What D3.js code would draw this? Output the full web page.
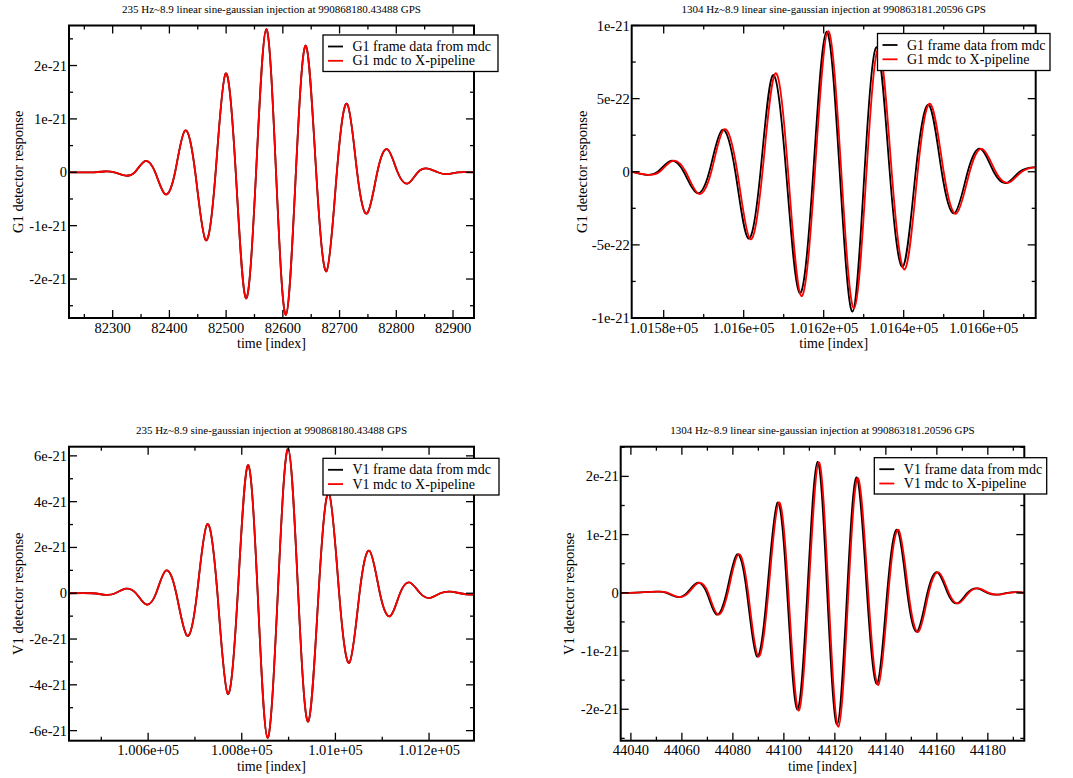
<!DOCTYPE html>
<html>
<head>
<meta charset="utf-8">
<script src="https://cdn.jsdelivr.net/npm/d3@7"></script>
<style>
  html, body { margin: 0; padding: 0; background: #fff; }
  svg text { font-family: "Liberation Serif", "Times New Roman", serif; fill: #000; }
</style>
</head>
<body>
<svg id="chart" width="1073" height="778"></svg>
<script>
// ---------------- DATA ----------------
// Panel A: G1, 235 Hz
const g1LowTime = [82223, 82267, 82285, 82303, 82321, 82339, 82357, 82375, 82392.5, 82410, 82427.4, 82445.6, 82463.9, 82481.5, 82499.1, 82517, 82534.9, 82552.8, 82570.7, 82588, 82605.4, 82623, 82640.6, 82658.8, 82677.1, 82695.2, 82713.4, 82731, 82748.6, 82766.5, 82784.4, 82802.4, 82820.4, 82838, 82855.6, 82873, 82890.8, 82908, 82937];
const g1LowFrame = [0, 0, 0.015e-21, 0, -0.06e-21, 0, 0.21e-21, 0, -0.41e-21, 0, 0.78e-21, 0, -1.27e-21, 0, 1.85e-21, 0, -2.36e-21, 0, 2.68e-21, 0, -2.67e-21, 0, 2.37e-21, 0, -1.85e-21, 0, 1.28e-21, 0, -0.77e-21, 0, 0.43e-21, 0, -0.21e-21, 0, 0.07e-21, 0, -0.035e-21, 0, 0];
const g1LowXpipe = [0, 0, 0.015e-21, 0, -0.06e-21, 0, 0.21e-21, 0, -0.41e-21, 0, 0.78e-21, 0, -1.27e-21, 0, 1.85e-21, 0, -2.36e-21, 0, 2.68e-21, 0, -2.67e-21, 0, 2.37e-21, 0, -1.85e-21, 0, 1.28e-21, 0, -0.77e-21, 0, 0.43e-21, 0, -0.21e-21, 0, 0.07e-21, 0, -0.035e-21, 0, 0];

// Panel B: G1, 1304 Hz
const g1HighTimeFrame = [101572, 101575.25, 101578.5, 101581.75, 101585, 101588.25, 101591.4, 101594.6, 101597.9, 101601.1, 101604.2, 101607.3, 101610.6, 101614, 101617.4, 101620.7, 101624, 101627.2, 101630.2, 101633.3, 101636.5, 101639.8, 101643, 101646.3, 101649.5, 101652.75, 101656, 101659.25, 101662.5, 101665.75, 101669, 101672.25, 101673];
const g1HighFrame = [0, -0.02e-21, 0, 0.075e-21, 0, -0.145e-21, 0, 0.285e-21, 0, -0.455e-21, 0, 0.66e-21, 0, -0.83e-21, 0, 0.957e-21, 0, -0.957e-21, 0, 0.851e-21, 0, -0.649e-21, 0, 0.456e-21, 0, -0.282e-21, 0, 0.156e-21, 0, -0.077e-21, 0, 0.03e-21, 0.028e-21];
const g1HighTimeXpipe = [101572, 101575.7, 101579, 101582.2, 101585.5, 101588.7, 101591.9, 101595.1, 101598.4, 101601.6, 101604.7, 101607.9, 101611.1, 101614.4, 101617.8, 101621.1, 101624.4, 101627.6, 101630.7, 101633.8, 101637, 101640.3, 101643.5, 101646.7, 101650, 101653.2, 101656.5, 101659.7, 101663, 101666.2, 101669.5, 101672.7, 101673];
const g1HighXpipe = [0, -0.02e-21, 0, 0.075e-21, 0, -0.15e-21, 0, 0.29e-21, 0, -0.46e-21, 0, 0.673e-21, 0, -0.85e-21, 0, 0.962e-21, 0, -0.934e-21, 0, 0.844e-21, 0, -0.667e-21, 0, 0.463e-21, 0, -0.285e-21, 0, 0.155e-21, 0, -0.075e-21, 0, 0.03e-21, 0.03e-21];

// Panel C: V1, 235 Hz
const v1LowTime = [100431, 100480, 100509, 100530, 100552, 100574, 100596, 100617, 100638, 100660, 100683, 100704.5, 100726, 100748, 100770, 100791.5, 100813, 100834, 100855, 100877, 100899, 100920.5, 100942, 100964, 100986, 101008, 101030, 101051.5, 101073, 101095, 101117, 101138, 101159, 101181, 101203, 101224, 101245, 101266, 101288, 101296];
const v1LowFrame = [0, 0, -0.07e-21, 0, 0.2e-21, 0, -0.49e-21, 0, 0.99e-21, 0, -1.85e-21, 0, 3.01e-21, 0, -4.39e-21, 0, 5.59e-21, 0, -6.31e-21, 0, 6.31e-21, 0, -5.6e-21, 0, 4.37e-21, 0, -3.03e-21, 0, 1.85e-21, 0, -1.0e-21, 0, 0.47e-21, 0, -0.2e-21, 0, 0.07e-21, 0, -0.06e-21, -0.03e-21];
const v1LowXpipe = [0, 0, -0.07e-21, 0, 0.2e-21, 0, -0.49e-21, 0, 0.99e-21, 0, -1.85e-21, 0, 3.01e-21, 0, -4.39e-21, 0, 5.59e-21, 0, -6.31e-21, 0, 6.31e-21, 0, -5.6e-21, 0, 4.37e-21, 0, -3.03e-21, 0, 1.85e-21, 0, -1.0e-21, 0, 0.47e-21, 0, -0.2e-21, 0, 0.07e-21, 0, -0.06e-21, -0.03e-21];

// Panel D: V1, 1304 Hz
const v1HighTimeFrame = [44036, 44042, 44050.1, 44054, 44058.1, 44062, 44066, 44069.8, 44073.5, 44077.5, 44081.6, 44085.5, 44089.4, 44093.4, 44097.5, 44101.3, 44105.2, 44109.2, 44113.2, 44117, 44120.9, 44124.8, 44128.6, 44132.6, 44136.6, 44140.5, 44144.5, 44148.4, 44152.3, 44156.3, 44160.3, 44164.2, 44168, 44172, 44175.9, 44179.8, 44183.8, 44187.7, 44191.6, 44194.3];
const v1HighFrame = [0, 0.005e-21, 0.02e-21, 0, -0.07e-21, 0, 0.17e-21, 0, -0.37e-21, 0, 0.66e-21, 0, -1.09e-21, 0, 1.55e-21, 0, -2.0e-21, 0, 2.25e-21, 0, -2.26e-21, 0, 1.98e-21, 0, -1.56e-21, 0, 1.08e-21, 0, -0.66e-21, 0, 0.35e-21, 0, -0.18e-21, 0, 0.075e-21, 0, -0.03e-21, 0, 0.01e-21, 0];
const v1HighTimeXpipe = [44036, 44042.5, 44050.6, 44054.5, 44058.6, 44062.5, 44066.5, 44070.3, 44074, 44078, 44082.1, 44086, 44089.9, 44093.9, 44098, 44101.8, 44105.7, 44109.7, 44113.7, 44117.5, 44121.4, 44125.3, 44129.1, 44133.1, 44137.1, 44141, 44145, 44148.9, 44152.8, 44156.8, 44160.8, 44164.7, 44168.5, 44172.5, 44176.4, 44180.3, 44184.3, 44188.2, 44192.1, 44194.3];
const v1HighXpipe = [0, 0.005e-21, 0.02e-21, 0, -0.07e-21, 0, 0.17e-21, 0, -0.37e-21, 0, 0.66e-21, 0, -1.09e-21, 0, 1.55e-21, 0, -2.02e-21, 0, 2.24e-21, 0, -2.3e-21, 0, 1.97e-21, 0, -1.58e-21, 0, 1.08e-21, 0, -0.67e-21, 0, 0.35e-21, 0, -0.18e-21, 0, 0.075e-21, 0, -0.03e-21, 0, 0.01e-21, 0];

// Titles, labels, ticks
const titles = [
  "235 Hz~8.9 linear sine-gaussian injection at 990868180.43488 GPS",
  "1304 Hz~8.9 linear sine-gaussian injection at 990863181.20596 GPS",
  "235 Hz~8.9 sine-gaussian injection at 990868180.43488 GPS",
  "1304 Hz~8.9 linear sine-gaussian injection at 990863181.20596 GPS"
];
const yAxisLabels = ["G1 detector response", "G1 detector response", "V1 detector response", "V1 detector response"];
const xAxisLabel = "time [index]";
const legendFrame = ["G1 frame data from mdc", "G1 frame data from mdc", "V1 frame data from mdc", "V1 frame data from mdc"];
const legendXpipe = ["G1 mdc to X-pipeline", "G1 mdc to X-pipeline", "V1 mdc to X-pipeline", "V1 mdc to X-pipeline"];

const xTicksA = [82300, 82400, 82500, 82600, 82700, 82800, 82900];
const xTickLabelsA = ["82300", "82400", "82500", "82600", "82700", "82800", "82900"];
const xMinorA = [82250, 82350, 82450, 82550, 82650, 82750, 82850];
const yTicksA = [-2e-21, -1e-21, 0, 1e-21, 2e-21];
const yTickLabelsA = ["-2e-21", "-1e-21", "0", "1e-21", "2e-21"];
const yMinorA = [-2.5e-21, -1.5e-21, -0.5e-21, 0.5e-21, 1.5e-21, 2.5e-21];

const xTicksB = [101580, 101600, 101620, 101640, 101660];
const xTickLabelsB = ["1.0158e+05", "1.016e+05", "1.0162e+05", "1.0164e+05", "1.0166e+05"];
const xMinorB = [101590, 101610, 101630, 101650, 101670];
const yTicksB = [-1e-21, -5e-22, 0, 5e-22, 1e-21];
const yTickLabelsB = ["-1e-21", "-5e-22", "0", "5e-22", "1e-21"];
const yMinorB = [-7.5e-22, -2.5e-22, 2.5e-22, 7.5e-22];

const xTicksC = [100600, 100800, 101000, 101200];
const xTickLabelsC = ["1.006e+05", "1.008e+05", "1.01e+05", "1.012e+05"];
const xMinorC = [100500, 100700, 100900, 101100];
const yTicksC = [-6e-21, -4e-21, -2e-21, 0, 2e-21, 4e-21, 6e-21];
const yTickLabelsC = ["-6e-21", "-4e-21", "-2e-21", "0", "2e-21", "4e-21", "6e-21"];
const yMinorC = [-5e-21, -3e-21, -1e-21, 1e-21, 3e-21, 5e-21];

const xTicksD = [44040, 44060, 44080, 44100, 44120, 44140, 44160, 44180];
const xTickLabelsD = ["44040", "44060", "44080", "44100", "44120", "44140", "44160", "44180"];
const xMinorD = [44050, 44070, 44090, 44110, 44130, 44150, 44170, 44190];
const yTicksD = [-2e-21, -1e-21, 0, 1e-21, 2e-21];
const yTickLabelsD = ["-2e-21", "-1e-21", "0", "1e-21", "2e-21"];
const yMinorD = [-2.5e-21, -1.5e-21, -0.5e-21, 0.5e-21, 1.5e-21, 2.5e-21];

const xDomains = [[82223, 82937], [101572, 101673], [100431, 101296], [44036, 44194.3]];
const yDomains = [[-2.73e-21, 2.75e-21], [-1e-21, 1e-21], [-6.44e-21, 6.4e-21], [-2.54e-21, 2.51e-21]];

// ---------------- LAYOUT ----------------
const panels = [
  { rect: [69, 25.5, 474, 318], yLabelX: 23, legend: [323, 35, 498, 71.5],
    xs: [g1LowTime, g1LowTime], ys: [g1LowFrame, g1LowXpipe],
    xt: xTicksA, xtl: xTickLabelsA, xm: xMinorA, yt: yTicksA, ytl: yTickLabelsA, ym: yMinorA },
  { rect: [631.7, 25.5, 1035.7, 318], yLabelX: 587, legend: [877.5, 33.5, 1050, 70.5],
    xs: [g1HighTimeFrame, g1HighTimeXpipe], ys: [g1HighFrame, g1HighXpipe],
    xt: xTicksB, xtl: xTickLabelsB, xm: xMinorB, yt: yTicksB, ytl: yTickLabelsB, ym: yMinorB },
  { rect: [69, 446.7, 474, 740.7], yLabelX: 23, legend: [323, 458.3, 499, 495],
    xs: [v1LowTime, v1LowTime], ys: [v1LowFrame, v1LowXpipe],
    xt: xTicksC, xtl: xTickLabelsC, xm: xMinorC, yt: yTicksC, ytl: yTickLabelsC, ym: yMinorC },
  { rect: [620.7, 446.7, 1024.3, 740.7], yLabelX: 574, legend: [874.3, 457.7, 1046.7, 494],
    xs: [v1HighTimeFrame, v1HighTimeXpipe], ys: [v1HighFrame, v1HighXpipe],
    xt: xTicksD, xtl: xTickLabelsD, xm: xMinorD, yt: yTicksD, ytl: yTickLabelsD, ym: yMinorD }
];

const svg = d3.select("#chart");
svg.append("rect").attr("width", 1073).attr("height", 778).attr("fill", "#fff");

panels.forEach((p, i) => {
  const [x0, y0, x1, y1] = p.rect;
  const x = d3.scaleLinear().domain(xDomains[i]).range([x0, x1]);
  const y = d3.scaleLinear().domain(yDomains[i]).range([y1, y0]);
  const g = svg.append("g");

  const clipId = "clip" + i;
  svg.append("clipPath").attr("id", clipId)
    .append("rect").attr("x", x0).attr("y", y0).attr("width", x1 - x0).attr("height", y1 - y0);

  // curves
  const colors = ["#000000", "#ff0000"];
  [0, 1].forEach(s => {
    const pts = p.xs[s].map((t, k) => [t, p.ys[s][k]]);
    const line = d3.line().x(d => x(d[0])).y(d => y(d[1])).curve(d3.curveNatural);
    g.append("path").attr("d", line(pts))
      .attr("fill", "none").attr("stroke", colors[s]).attr("stroke-width", 1.8)
      .attr("stroke-linejoin", "round")
      .attr("clip-path", `url(#${clipId})`);
  });

  // ticks (inward, on all four sides)
  const tk = g.append("g").attr("stroke", "#000").attr("stroke-width", 1.3);
  const major = 8, minor = 4;
  p.xt.forEach(v => {
    tk.append("line").attr("x1", x(v)).attr("x2", x(v)).attr("y1", y1).attr("y2", y1 - major);
    tk.append("line").attr("x1", x(v)).attr("x2", x(v)).attr("y1", y0).attr("y2", y0 + major);
  });
  p.xm.forEach(v => {
    tk.append("line").attr("x1", x(v)).attr("x2", x(v)).attr("y1", y1).attr("y2", y1 - minor);
    tk.append("line").attr("x1", x(v)).attr("x2", x(v)).attr("y1", y0).attr("y2", y0 + minor);
  });
  p.yt.forEach(v => {
    tk.append("line").attr("y1", y(v)).attr("y2", y(v)).attr("x1", x0).attr("x2", x0 + major);
    tk.append("line").attr("y1", y(v)).attr("y2", y(v)).attr("x1", x1).attr("x2", x1 - major);
  });
  p.ym.forEach(v => {
    tk.append("line").attr("y1", y(v)).attr("y2", y(v)).attr("x1", x0).attr("x2", x0 + minor);
    tk.append("line").attr("y1", y(v)).attr("y2", y(v)).attr("x1", x1).attr("x2", x1 - minor);
  });

  // frame
  g.append("rect").attr("x", x0).attr("y", y0).attr("width", x1 - x0).attr("height", y1 - y0)
    .attr("fill", "none").attr("stroke", "#000").attr("stroke-width", 2);

  // tick labels
  p.xt.forEach((v, k) => {
    g.append("text").attr("x", x(v)).attr("y", y1 + 14.5).attr("text-anchor", "middle")
      .attr("font-size", 14.5).text(p.xtl[k]);
  });
  p.yt.forEach((v, k) => {
    g.append("text").attr("x", x0 - 2).attr("y", y(v) + 5).attr("text-anchor", "end")
      .attr("font-size", 14.5).text(p.ytl[k]);
  });

  // axis labels
  g.append("text").attr("x", (x0 + x1) / 2).attr("y", y1 + 30).attr("text-anchor", "middle")
    .attr("font-size", 14).text(xAxisLabel);
  g.append("text").attr("transform", `translate(${p.yLabelX},${(y0 + y1) / 2}) rotate(-90)`)
    .attr("text-anchor", "middle").attr("font-size", 14.5).text(yAxisLabels[i]);

  // title
  g.append("text").attr("x", (x0 + x1) / 2).attr("y", y0 - 12.5).attr("text-anchor", "middle")
    .attr("font-size", 11).text(titles[i]);

  // legend
  const [lx0, ly0, lx1, ly1] = p.legend;
  const lg = svg.append("g");
  lg.append("rect").attr("x", lx0).attr("y", ly0).attr("width", lx1 - lx0).attr("height", ly1 - ly0)
    .attr("fill", "#fff").attr("stroke", "#000").attr("stroke-width", 1.3);
  const rows = [legendFrame[i], legendXpipe[i]];
  rows.forEach((txt, r) => {
    const cy = ly0 + 11.5 + r * 14.3;
    lg.append("line").attr("x1", lx0 + 5).attr("x2", lx0 + 20).attr("y1", cy).attr("y2", cy)
      .attr("stroke", colors[r]).attr("stroke-width", 1.8);
    lg.append("text").attr("x", lx0 + 29.5).attr("y", cy + 4.5).attr("font-size", 14).text(txt);
  });
});
</script>
</body>
</html>
